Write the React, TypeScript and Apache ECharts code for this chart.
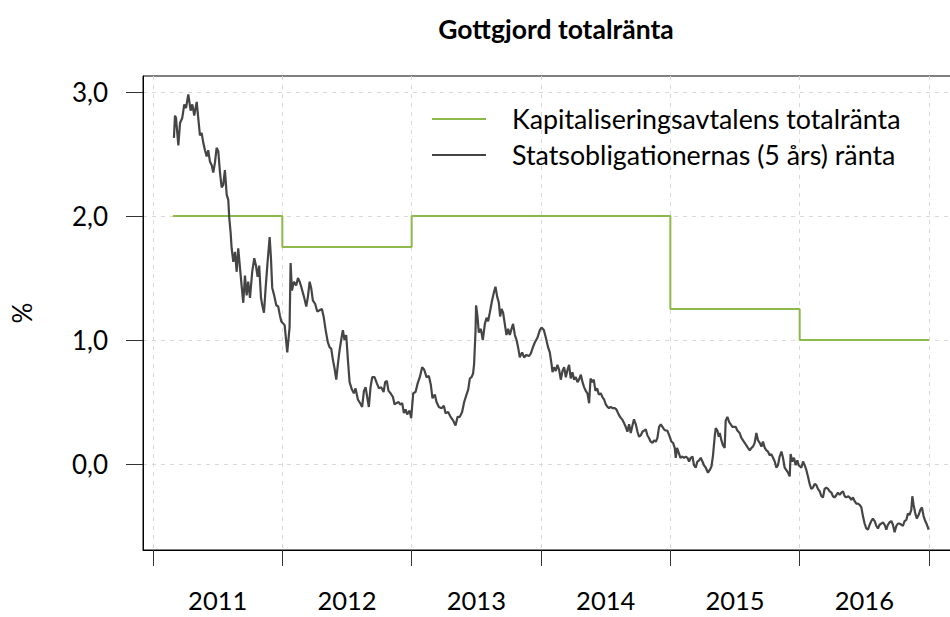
import React, { useEffect, useRef } from 'react';
import * as echarts from 'echarts';

const chartTitle = 'Gottgjord totalränta';
const yAxisName = '%';
const seriesNames = ['Kapitaliseringsavtalens totalränta', 'Statsobligationernas (5 års) ränta'];

const yearTicks = [2011, 2012, 2013, 2014, 2015, 2016, 2017];
const yearLabels = [2011, 2012, 2013, 2014, 2015, 2016];
const yTicks = [0, 1, 2, 3];

// Kapitaliseringsavtalens totalränta (step, value holds until next date)
const rateDates = [2011.155, 2012, 2013, 2015, 2016, 2017];
const rateValues = [2.0, 1.75, 2.0, 1.25, 1.0, 1.0];

// Statsobligationernas (5 års) ränta, decimal year
const bondDates = [
  2011.162, 2011.170, 2011.178, 2011.196, 2011.209, 2011.226, 2011.242, 2011.255, 2011.273, 2011.291,
  2011.304, 2011.319, 2011.338, 2011.350, 2011.363, 2011.376, 2011.389, 2011.402, 2011.415, 2011.427,
  2011.440, 2011.454, 2011.466, 2011.479, 2011.492, 2011.505, 2011.518, 2011.531, 2011.543, 2011.556,
  2011.570, 2011.582, 2011.590, 2011.600, 2011.608, 2011.621, 2011.634, 2011.647, 2011.659, 2011.672,
  2011.685, 2011.698, 2011.711, 2011.724, 2011.736, 2011.750, 2011.767, 2011.783, 2011.796, 2011.809,
  2011.821, 2011.835, 2011.845, 2011.858, 2011.871, 2011.886, 2011.902, 2011.912, 2011.922, 2011.937,
  2011.953, 2011.968, 2011.981, 2011.992, 2012.018, 2012.038, 2012.056, 2012.064, 2012.074, 2012.090,
  2012.107, 2012.121, 2012.134, 2012.146, 2012.167, 2012.185, 2012.198, 2012.211, 2012.223, 2012.236,
  2012.254, 2012.270, 2012.288, 2012.306, 2012.319, 2012.335, 2012.352, 2012.366, 2012.378, 2012.391,
  2012.404, 2012.417, 2012.430, 2012.443, 2012.455, 2012.468, 2012.481, 2012.494, 2012.507, 2012.520,
  2012.538, 2012.553, 2012.566, 2012.584, 2012.602, 2012.617, 2012.631, 2012.644, 2012.656, 2012.669,
  2012.682, 2012.695, 2012.713, 2012.731, 2012.747, 2012.764, 2012.783, 2012.795, 2012.808, 2012.821,
  2012.837, 2012.855, 2012.868, 2012.880, 2012.899, 2012.911, 2012.927, 2012.940, 2012.953, 2012.965,
  2012.984, 2012.996, 2013.012, 2013.030, 2013.046, 2013.063, 2013.081, 2013.097, 2013.115, 2013.133,
  2013.148, 2013.161, 2013.179, 2013.192, 2013.210, 2013.231, 2013.249, 2013.262, 2013.282, 2013.301,
  2013.321, 2013.339, 2013.355, 2013.372, 2013.390, 2013.406, 2013.424, 2013.437, 2013.450, 2013.463,
  2013.475, 2013.483, 2013.494, 2013.498, 2013.509, 2013.519, 2013.535, 2013.550, 2013.566, 2013.579,
  2013.591, 2013.604, 2013.622, 2013.635, 2013.648, 2013.661, 2013.674, 2013.684, 2013.695, 2013.707,
  2013.720, 2013.733, 2013.746, 2013.759, 2013.772, 2013.784, 2013.798, 2013.811, 2013.823, 2013.836,
  2013.854, 2013.869, 2013.888, 2013.906, 2013.921, 2013.937, 2013.952, 2013.973, 2013.991, 2014.004,
  2014.022, 2014.037, 2014.055, 2014.068, 2014.081, 2014.089, 2014.101, 2014.114, 2014.127, 2014.140,
  2014.153, 2014.166, 2014.179, 2014.192, 2014.205, 2014.217, 2014.230, 2014.243, 2014.256, 2014.269,
  2014.282, 2014.294, 2014.308, 2014.321, 2014.333, 2014.346, 2014.359, 2014.372, 2014.383, 2014.395,
  2014.408, 2014.421, 2014.434, 2014.447, 2014.462, 2014.475, 2014.488, 2014.501, 2014.514, 2014.526,
  2014.539, 2014.553, 2014.570, 2014.583, 2014.596, 2014.611, 2014.627, 2014.642, 2014.655, 2014.668,
  2014.681, 2014.694, 2014.707, 2014.719, 2014.733, 2014.746, 2014.758, 2014.771, 2014.784, 2014.797,
  2014.810, 2014.823, 2014.835, 2014.848, 2014.862, 2014.874, 2014.887, 2014.900, 2014.913, 2014.926,
  2014.939, 2014.951, 2014.964, 2014.977, 2014.995, 2015.008, 2015.021, 2015.034, 2015.042, 2015.052,
  2015.065, 2015.078, 2015.090, 2015.106, 2015.119, 2015.132, 2015.145, 2015.158, 2015.171, 2015.183,
  2015.196, 2015.209, 2015.222, 2015.235, 2015.248, 2015.260, 2015.274, 2015.291, 2015.304, 2015.318,
  2015.330, 2015.343, 2015.351, 2015.364, 2015.374, 2015.382, 2015.395, 2015.407, 2015.420, 2015.428,
  2015.441, 2015.454, 2015.467, 2015.480, 2015.492, 2015.505, 2015.518, 2015.536, 2015.549, 2015.562,
  2015.575, 2015.588, 2015.600, 2015.614, 2015.627, 2015.639, 2015.652, 2015.665, 2015.678, 2015.691,
  2015.704, 2015.716, 2015.730, 2015.743, 2015.755, 2015.768, 2015.781, 2015.794, 2015.807, 2015.820,
  2015.832, 2015.845, 2015.859, 2015.871, 2015.884, 2015.897, 2015.910, 2015.923, 2015.930, 2015.943,
  2015.956, 2015.969, 2015.982, 2015.992, 2016.013, 2016.026, 2016.039, 2016.052, 2016.064, 2016.077,
  2016.090, 2016.103, 2016.116, 2016.129, 2016.141, 2016.155, 2016.168, 2016.180, 2016.193, 2016.206,
  2016.219, 2016.232, 2016.245, 2016.257, 2016.270, 2016.284, 2016.296, 2016.309, 2016.322, 2016.335,
  2016.348, 2016.361, 2016.373, 2016.386, 2016.399, 2016.412, 2016.425, 2016.438, 2016.450, 2016.464,
  2016.477, 2016.489, 2016.502, 2016.515, 2016.528, 2016.541, 2016.554, 2016.566, 2016.580, 2016.593,
  2016.605, 2016.618, 2016.631, 2016.644, 2016.657, 2016.670, 2016.682, 2016.695, 2016.709, 2016.721,
  2016.734, 2016.747, 2016.760, 2016.773, 2016.786, 2016.798, 2016.811, 2016.825, 2016.837, 2016.850,
  2016.863, 2016.871, 2016.881, 2016.894, 2016.906, 2016.920, 2016.933, 2016.945, 2016.958, 2016.971,
  2016.984, 2016.997,
];

const bondValues = [
  2.63, 2.81, 2.79, 2.57, 2.75, 2.79, 2.90, 2.87, 2.98, 2.85,
  2.90, 2.81, 2.92, 2.79, 2.65, 2.67, 2.59, 2.53, 2.48, 2.53,
  2.44, 2.41, 2.35, 2.43, 2.55, 2.52, 2.35, 2.23, 2.25, 2.37,
  2.17, 2.13, 1.98, 1.87, 1.74, 1.63, 1.71, 1.55, 1.74, 1.59,
  1.44, 1.30, 1.52, 1.36, 1.47, 1.34, 1.55, 1.66, 1.60, 1.51,
  1.60, 1.34, 1.28, 1.22, 1.42, 1.63, 1.83, 1.66, 1.42, 1.36,
  1.28, 1.27, 1.20, 1.15, 1.12, 0.90, 1.10, 1.62, 1.40, 1.47,
  1.44, 1.50, 1.47, 1.43, 1.35, 1.27, 1.35, 1.47, 1.42, 1.32,
  1.29, 1.23, 1.24, 1.25, 1.19, 1.08, 0.98, 0.94, 0.93, 0.84,
  0.77, 0.68, 0.81, 0.92, 1.00, 1.08, 1.00, 1.04, 0.84, 0.66,
  0.60, 0.57, 0.61, 0.52, 0.49, 0.46, 0.59, 0.62, 0.54, 0.46,
  0.62, 0.70, 0.70, 0.65, 0.61, 0.62, 0.58, 0.66, 0.67, 0.59,
  0.57, 0.54, 0.48, 0.49, 0.50, 0.48, 0.49, 0.41, 0.44, 0.40,
  0.43, 0.37, 0.57, 0.58, 0.65, 0.70, 0.78, 0.76, 0.70, 0.71,
  0.64, 0.53, 0.56, 0.50, 0.46, 0.45, 0.47, 0.41, 0.42, 0.38,
  0.35, 0.31, 0.38, 0.38, 0.42, 0.50, 0.56, 0.60, 0.69, 0.70,
  0.73, 0.81, 1.08, 1.28, 1.19, 1.06, 1.09, 1.00, 1.13, 1.18,
  1.15, 1.22, 1.32, 1.38, 1.43, 1.35, 1.30, 1.19, 1.25, 1.22,
  1.13, 1.04, 1.09, 1.04, 1.09, 1.13, 1.04, 1.00, 0.94, 0.86,
  0.90, 0.86, 0.88, 0.87, 0.89, 0.94, 0.98, 1.02, 1.08, 1.10,
  1.08, 1.02, 0.94, 0.90, 0.81, 0.74, 0.78, 0.75, 0.80, 0.76,
  0.68, 0.75, 0.78, 0.70, 0.76, 0.80, 0.69, 0.74, 0.68, 0.70,
  0.66, 0.68, 0.72, 0.66, 0.62, 0.59, 0.57, 0.49, 0.69, 0.66,
  0.68, 0.59, 0.61, 0.56, 0.57, 0.54, 0.52, 0.48, 0.46, 0.45,
  0.46, 0.45, 0.45, 0.44, 0.41, 0.38, 0.36, 0.33, 0.30, 0.26,
  0.32, 0.25, 0.31, 0.36, 0.32, 0.26, 0.22, 0.23, 0.26, 0.27,
  0.28, 0.23, 0.21, 0.18, 0.17, 0.19, 0.18, 0.21, 0.30, 0.32,
  0.30, 0.28, 0.27, 0.27, 0.22, 0.18, 0.17, 0.13, 0.05, 0.13,
  0.09, 0.05, 0.06, 0.05, 0.06, 0.05, 0.02, 0.05, 0.06, -0.01,
  -0.03, 0.02, 0.03, 0.05, 0.02, -0.01, -0.03, -0.07, -0.05, -0.02,
  0.07, 0.22, 0.29, 0.27, 0.22, 0.25, 0.19, 0.15, 0.13, 0.35,
  0.38, 0.34, 0.32, 0.30, 0.30, 0.30, 0.27, 0.25, 0.21, 0.19,
  0.17, 0.15, 0.13, 0.11, 0.13, 0.14, 0.17, 0.25, 0.19, 0.17,
  0.14, 0.18, 0.13, 0.11, 0.10, 0.07, 0.08, 0.05, 0.02, -0.03,
  -0.01, 0.06, 0.10, 0.05, -0.03, -0.05, -0.07, -0.10, 0.08, 0.02,
  0.05, -0.01, 0.03, -0.01, -0.03, 0.02, -0.01, -0.05, -0.10, -0.16,
  -0.20, -0.19, -0.16, -0.17, -0.20, -0.22, -0.26, -0.27, -0.20, -0.19,
  -0.20, -0.22, -0.23, -0.26, -0.27, -0.25, -0.23, -0.25, -0.23, -0.22,
  -0.26, -0.27, -0.26, -0.27, -0.29, -0.27, -0.30, -0.32, -0.32, -0.33,
  -0.35, -0.42, -0.48, -0.52, -0.53, -0.49, -0.46, -0.44, -0.46, -0.50,
  -0.52, -0.49, -0.48, -0.47, -0.49, -0.53, -0.49, -0.47, -0.46, -0.49,
  -0.55, -0.50, -0.48, -0.48, -0.49, -0.50, -0.46, -0.45, -0.40, -0.41,
  -0.37, -0.26, -0.33, -0.40, -0.44, -0.41, -0.37, -0.35, -0.42, -0.46,
  -0.49, -0.53,
];

const GREEN = '#8db84a';
const DARK = '#454545';
const FONT = 'Lato';

export default function App() {
  const ref = useRef<HTMLDivElement>(null);

  useEffect(() => {
    if (!ref.current) return;
    const chart = echarts.init(ref.current, undefined, { renderer: 'svg' });

    const rateData = rateDates.map((d, i) => [d, rateValues[i]]);
    const n = Math.min(bondDates.length, bondValues.length);
    const bondData = [] as number[][];
    for (let i = 0; i < n; i++) bondData.push([bondDates[i], bondValues[i]]);

    chart.setOption({
      animation: false,
      backgroundColor: '#ffffff',
      textStyle: { fontFamily: FONT },
      grid: {
        left: 143,
        top: 76,
        bottom: 67,
        right: -9,
        show: true,
        borderColor: '#000000',
        borderWidth: 1,
        backgroundColor: 'transparent',
        containLabel: false,
        outerBoundsMode: 'none',
      },
      graphic: [
        {
          type: 'text',
          x: 556,
          y: 29,
          style: {
            text: chartTitle,
            fill: '#000000',
            font: `bold 26.5px ${FONT}`,
            align: 'center',
            verticalAlign: 'middle',
          },
        },
      ],
      legend: {
        orient: 'vertical',
        left: 432,
        top: 101,
        padding: 0,
        itemWidth: 54,
        itemHeight: 2,
        itemGap: 0,
        icon: 'rect',
        data: seriesNames,
        textStyle: { fontFamily: FONT, fontSize: 26.8, color: '#000000', lineHeight: 36, padding: [0, 0, 0, 21] },
      },
      xAxis: {
        type: 'value',
        min: 2011 - 10 / 129.4,
        max: 2017 + 30 / 129.4,
        axisLine: { show: true, onZero: false, lineStyle: { color: '#000000', width: 1 } },
        axisTick: {
          show: true,
          length: 16,
          inside: false,
          customValues: yearTicks,
          lineStyle: { color: '#333333', width: 1 },
        },
        axisLabel: {
          show: true,
          customValues: yearLabels.map((y) => y + 0.5),
          formatter: (v: number) => String(Math.floor(v)),
          fontFamily: FONT,
          fontSize: 25.5,
          lineHeight: 22,
          color: '#000000',
          margin: 39,
        },
        splitLine: {
          show: true,
          lineStyle: { color: '#d9d9d9', type: [4, 5], width: 1 },
        },
      },
      yAxis: {
        type: 'value',
        min: (464 - 550) / 124,
        max: (464 - 76) / 124,
        name: yAxisName,
        nameLocation: 'middle',
        nameRotate: 90,
        nameGap: 108,
        nameTextStyle: { fontFamily: FONT, fontSize: 26, color: '#000000' },
        axisLine: { show: true, lineStyle: { color: '#000000', width: 1 } },
        axisTick: {
          show: true,
          length: 17,
          customValues: yTicks,
          lineStyle: { color: '#333333', width: 1 },
        },
        axisLabel: {
          show: true,
          customValues: yTicks,
          formatter: (v: number) => v.toFixed(1).replace('.', ','),
          fontFamily: FONT,
          fontSize: 26,
          color: '#000000',
          margin: 35,
        },
        splitLine: {
          show: true,
          lineStyle: { color: '#d9d9d9', type: [4, 5], width: 1 },
        },
      },
      series: [
        {
          name: seriesNames[0],
          type: 'line',
          step: 'end',
          data: rateData,
          showSymbol: false,
          symbol: 'none',
          lineStyle: { color: GREEN, width: 2 },
          itemStyle: { color: GREEN },
          z: 2,
        },
        {
          name: seriesNames[1],
          type: 'line',
          data: bondData,
          showSymbol: false,
          symbol: 'none',
          lineStyle: { color: DARK, width: 2.2 },
          itemStyle: { color: DARK },
          z: 3,
        },
      ],
    });

    return () => chart.dispose();
  }, []);

  return <div ref={ref} style={{ width: 950, height: 617, position: 'absolute', left: 0, top: 0 }} />;
}
